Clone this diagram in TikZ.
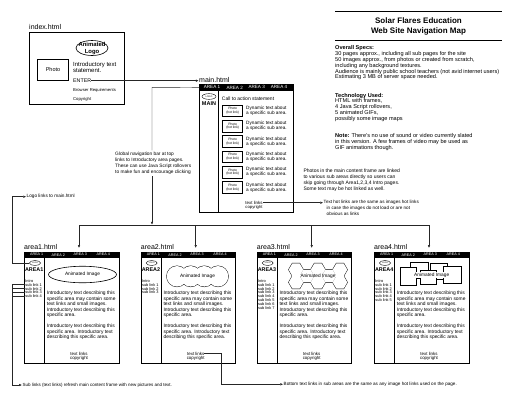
\documentclass[tikz,border=0pt]{standalone}
\usepackage{fontspec}
\setmainfont{Liberation Sans}
\usetikzlibrary{arrows.meta,shapes.geometric,calc}
\newcommand\fsz[2]{\fontsize{#1}{#2}\selectfont}
\tikzset{
 conn/.style={line width=0.45pt, draw=black!85},
 arr/.style={conn, -{Triangle[length=2.6pt,width=2.2pt]}, shorten >=0.6pt},
 pageframe/.style={draw, line width=0.9pt, inner sep=0pt, anchor=north west},
 navbar/.style={fill=black, inner sep=0pt, anchor=north west},
 pagelbl/.style={font=\fsz{7}{8}, inner sep=0pt, anchor=west},
 areatab/.style={font=\fsz{3.7}{4}, text=white, inner sep=0pt},
 maintab/.style={font=\fsz{4.6}{5}, text=white, inner sep=0pt},
 divider/.style={line width=0.7pt},
 logo/.style={draw, ellipse, inner sep=0pt, line width=0.4pt, font=\fsz{2}{2}},
 areaname/.style={font=\bfseries\fsz{5.4}{6}, inner sep=0pt},
 sublink/.style={font=\fsz{3.9}{4}, inner sep=0pt, anchor=west},
 areapara/.style={font=\fsz{4.9}{5.5}, inner sep=0pt, anchor=north west, align=left},
 tinytxt/.style={font=\fsz{4.4}{5}, inner sep=0pt},
 annot/.style={inner sep=0pt, align=left, anchor=north west},
 imgtxt/.style={font=\fsz{4.8}{5}, inner sep=0pt},
 shapeline/.style={line width=0.9pt},
 rectline/.style={line width=0.5pt, draw=black, fill=white},
}
\newcommand\areapage[4]{%
  \node[pagelbl] (#1lbl) at (#2,246.7) {area#3.html};
  \coordinate (#1arr) at (#2+55,248.3);
  \node[pageframe, minimum width=94.5pt, minimum height=110.7pt] (#1box) at (#2,252) {};
  \node[navbar, minimum width=94.5pt, minimum height=5.4pt] (#1bar) at (#2,252) {};
  \node[areatab] (#1t1) at (#2+12.7,254.7) {AREA 1};
  \node[areatab] (#1t2) at (#2+34.3,254.7) {AREA 2};
  \node[areatab] (#1t3) at (#2+56.3,254.7) {AREA 3};
  \node[areatab] (#1t4) at (#2+79.3,254.7) {AREA 4};
  \draw[divider] (#2+20.3,257.4) -- (#2+20.3,362.7);
  \node[logo, minimum width=11pt, minimum height=5pt] (#1logo) at (#2+11,263) {LOGO};
  \node[areaname] (#1name) at (#2+10.2,269.5) {AREA#3};
  \node[sublink] (#1intro) at (#2+1.2,280.8) {Intro};
  \foreach \k in {1,...,#4} {\node[sublink] (#1s\k) at (#2+1.2,280.8+3.9*\k) {sub link \k};}
  \node[areapara] (#1p1) at (#2+22.7,291.2) {Introductory text describing this\\specific area may contain some\\text links and small images.\\Introductory text describing this\\specific area.};
  \node[areapara] (#1p2) at (#2+22.7,324.2) {Introductory text describing this\\specific area. Introductory text\\describing this specific area.};
  \node[tinytxt] (#1tl) at (#2+55,353.5) {text links};
  \node[tinytxt] (#1cr) at (#2+55,358.2) {copyright};
}
\newcommand\hexpath[2]{(#1+7.3,#2) -- (#1+3.65,#2+6.32) -- (#1-3.65,#2+6.32) -- (#1-7.3,#2) -- (#1-3.65,#2-6.32) -- (#1+3.65,#2-6.32) -- cycle}
\begin{document}
\begin{tikzpicture}[x=1pt,y=-1pt]
\path[fill=white] (0,0) rectangle (516,400);
\useasboundingbox (0,0) rectangle (516,400);

% ---------- index.html ----------
\node[pagelbl] (indexlbl) at (29,27) {index.html};
\node[pageframe, minimum width=95pt, minimum height=72pt] (index) at (29,32) {};
\node[draw, ellipse, minimum width=32pt, minimum height=15pt, inner sep=0pt, line width=0.6pt] (logo0) at (92,48) {};
\node[font=\bfseries\fsz{5.9}{7}, align=center, inner sep=0pt] (logotxt) at (92,48) {Animated\\Logo};
\node[draw, line width=0.5pt, minimum width=31.4pt, minimum height=21pt, inner sep=0pt, font=\fsz{5.5}{6}] (photo0) at (53,69.8) {Photo};
\node[annot, font=\fsz{6}{6.6}] (intro0) at (73,61.5) {Introductory text\\statement.};
\node[anchor=west, inner sep=0pt, font=\fsz{5.3}{6}] (enter) at (73,80.7) {ENTER};
\node[anchor=west, inner sep=0pt, font=\fsz{4.2}{5}] (browser) at (73,90.3) {Browser Requirements};
\node[anchor=west, inner sep=0pt, font=\fsz{4.2}{5}] (copy0) at (73,99.3) {Copyright};

% ---------- main.html ----------
\node[pagelbl] (mainlbl) at (199,79.8) {main.html};
\node[pageframe, minimum width=94pt, minimum height=128pt] (mainbox) at (199,84) {};
\node[navbar, minimum width=94pt, minimum height=6.7pt] (mainbar) at (199,84) {};
\node[maintab] (mnav1) at (212,87.4) {AREA 1};
\node[maintab] (mnav2) at (234.7,87.4) {AREA 2};
\node[maintab] (mnav3) at (256.7,87.4) {AREA 3};
\node[maintab] (mnav4) at (279,87.4) {AREA 4};
\draw[divider] (218.3,90.7) -- (218.3,212);
\node[logo, minimum width=14pt, minimum height=5.7pt, font=\fsz{2.3}{2.5}] (mlogo) at (209,96.5) {LOGO};
\node[font=\bfseries\fsz{5.5}{6}, inner sep=0pt] (mname) at (209,104) {MAIN};
\node[anchor=west, inner sep=0pt, font=\fsz{5}{5.5}] (cta) at (221.7,98.3) {Call to action statement};
\foreach \i in {1,...,6} {
  \node[draw, line width=0.5pt, minimum width=20pt, minimum height=11.7pt, inner sep=0pt, align=center, font=\fsz{3.3}{3.8}] (ph\i) at (232.7,110.85+15.3*\i-15.3) {Photo\\(hot link)};
  \node[anchor=west, inner sep=0pt, align=left, font=\fsz{4.7}{5}] (dyn\i) at (246,110.85+15.3*\i-15.3) {Dynamic text about\\a specific sub area.};
}
\node[tinytxt] (mtl) at (254,202.7) {text links};
\node[tinytxt, font=\fsz{4.2}{5}] (mcr) at (254,207.3) {copyright};

% ---------- title and specs ----------
\draw[line width=1pt] (335,11.7) -- (502,11.7);
\node[font=\bfseries\fsz{8}{10}, align=center, inner sep=0pt] (title) at (418.5,26.7) {Solar Flares Education\\Web Site Navigation Map};
\draw[line width=1pt] (335,40.7) -- (502,40.7);
\node[annot, font=\fsz{5.6}{5.8}] (specs) at (335,45.6) {\textbf{Overall Specs:}\\30 pages approx., including all sub pages for the site\\50 images approx., from photos or created from scratch,\\including any background textures.\\Audience is mainly public school teachers (not avid internet users)\\Estimating 3 MB of server space needed.};
\node[annot, font=\fsz{5.6}{5.8}] (tech) at (335,92.9) {\textbf{Technology Used:}\\HTML with frames,\\4 Java Script rollovers,\\5 animated GIFs,\\possibly some image maps};
\node[annot, font=\fsz{5.6}{6}] (notetxt) at (335,132.9) {\textbf{Note:} There's no use of sound or video currently slated\\in this version. A few frames of video may be used as\\GIF animations though.};

% ---------- annotations ----------
\node[annot, font=\fsz{4.8}{6.2}, inner sep=1.2pt] (navnote) at (113.8,150.3) {Global navigation bar at top\\links to Introductory area pages.\\These can use Java Script rollovers\\to make fun and encourage clicking};
\node[annot, font=\fsz{5}{6}] (photosnote) at (303.3,168.9) {Photos in the main content frame are linked\\to various sub areas directly so users can\\skip going through Area1,2,3,4 Intro pages.\\Some text may be hot linked as well.};
\node[annot, font=\fsz{4.6}{5.8}] (hotnote) at (323.5,200) {Text hot links are the same as images hot links\\\hspace*{3pt}in case the images do not load or are not\\\hspace*{3pt}obvious as links};
\node[anchor=west, inner sep=0pt, font=\fsz{4.7}{5}] (logonote) at (26.5,196.7) {Logo links to main.html};
\node[anchor=west, inner sep=0pt, font=\fsz{4.5}{5}] (subnote) at (22.3,385) {Sub links (text links) refresh main content frame with new pictures and text.};
\node[anchor=west, inner sep=0pt, font=\fsz{4.6}{5}] (botnote) at (283.5,384.3) {Bottom text links in sub areas are the same as any image hot links used on the page.};

% ---------- area pages ----------
\areapage{a1}{24}{1}{4}
\areapage{a2}{140.7}{2}{3}
\areapage{a3}{256.7}{3}{7}
\areapage{a4}{374}{4}{5}

% area1 image: ellipse
\node[draw, ellipse, line width=0.6pt, minimum width=68pt, minimum height=16.5pt, inner sep=0pt, font=\fsz{4.8}{5}] (a1img) at (82.5,274.5) {Animated Image};
% area2 image: circles
\foreach \cx in {177,190.7,204.3,218} {\draw[shapeline] (\cx,276.3) circle (10.3);}
\foreach \cx in {177,190.7,204.3,218} {\fill[white] (\cx,276.3) circle (10.3);}
\node[imgtxt] (a2img) at (197.5,276.3) {Animated Image};
% area3 image: hexagons
\foreach \hx/\hy in {296/269.68,296/282.32,307/276,318/269.68,318/282.32,329/276,340/269.68,340/282.32} {\draw[shapeline] \hexpath{\hx}{\hy};}
\foreach \hx/\hy in {296/269.68,296/282.32,307/276,318/269.68,318/282.32,329/276,340/269.68,340/282.32} {\fill[white] \hexpath{\hx}{\hy};}
\node[imgtxt] (a3img) at (318,276) {Animated Image};
% area4 image: overlapping rectangles
\foreach \ra/\rb/\rc/\rd in {430/263/447/279,410/262/428/278,400/267/416/285,443/266/461/283,420/270/436/284} {\filldraw[rectline] (\ra,\rb) rectangle (\rc,\rd);}
\node[imgtxt, fill=white, inner sep=0.4pt] (a4img) at (431.7,275) {Animated Image};

% ---------- connectors ----------
\coordinate (leftx) at (12.3,0);
\coordinate (botx) at (221,0);
\coordinate (navcorner) at (152,87.35);
\coordinate (distl) at (0,225);

\draw[arr] (enter.east) -- (enter.east -| mainlbl.west);
\draw[conn] (mainbar.west) -- (navcorner) -- (navcorner |- navnote.north);
\draw[arr] (navcorner |- navnote.south) -- (navcorner |- distl);
\draw[conn] (a1arr |- distl) -- (a4arr |- distl);
\draw[arr] (a1arr |- distl) -- (a1arr);
\draw[arr] (a2arr |- distl) -- (a2arr);
\draw[arr] (a3arr |- distl) -- (a3arr);
\draw[arr] (a4arr |- distl) -- (a4arr);
\draw[arr] (mtl.east) -- (mtl.east -| hotnote.west);
\draw[arr] (a1logo.west) -- (a1logo.west -| leftx) -- (leftx |- logonote.west) -- (logonote.west);
\foreach \k in {1,...,4} {\draw[conn] (a1s\k.west) -- (a1s\k.west -| leftx);}
\draw[arr] (a1s1.west -| leftx) -- (leftx |- subnote.west) -- (subnote.west);
\draw[arr] (a2tl.east) -- (a2tl.east -| botx) -- (botx |- botnote.west) -- (botnote.west);
\end{tikzpicture}
\end{document}
